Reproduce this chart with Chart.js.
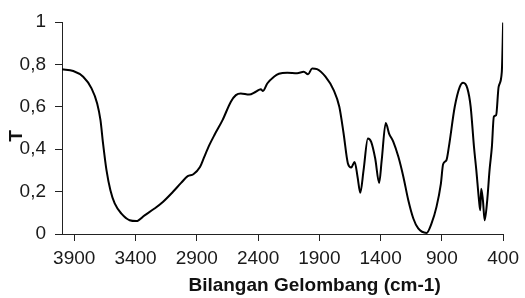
<!DOCTYPE html>
<html>
<head>
<meta charset="utf-8">
<script src="https://cdn.jsdelivr.net/npm/chart.js@4"></script>
<style>
  body { margin: 0; background: #fff; }
  canvas { display: block; }
</style>
</head>
<body>
<canvas id="myChart" width="525" height="298"></canvas>
<script>
// wavenumber (cm-1) and transmittance
var waveNumbers = [4000, 3908, 3827, 3759, 3713, 3686, 3665, 3637, 3605, 3570, 3515, 3448, 3393, 3326, 3245, 3177, 3096, 3028, 2974, 2928, 2874, 2839, 2798, 2757, 2690, 2622, 2581, 2541, 2473, 2419, 2378, 2360, 2325, 2270, 2230, 2162, 2081, 2027, 1992, 1959, 1919, 1850, 1783, 1737, 1702, 1667, 1639, 1612, 1588, 1566, 1539, 1504, 1477, 1444, 1412, 1391, 1358, 1331, 1296, 1255, 1214, 1174, 1133, 1093, 1025, 985, 944, 908, 890, 863, 843, 795, 754, 727, 692, 665, 638, 619, 597, 587, 579, 565, 551, 530, 511, 492, 476, 457, 437, 411, 400];
var transmittance = [0.777, 0.769, 0.742, 0.687, 0.616, 0.537, 0.427, 0.301, 0.206, 0.144, 0.096, 0.065, 0.061, 0.088, 0.120, 0.151, 0.198, 0.241, 0.273, 0.282, 0.316, 0.364, 0.419, 0.466, 0.537, 0.624, 0.655, 0.663, 0.658, 0.671, 0.683, 0.675, 0.710, 0.742, 0.756, 0.761, 0.758, 0.765, 0.753, 0.781, 0.778, 0.742, 0.679, 0.600, 0.474, 0.333, 0.314, 0.340, 0.269, 0.194, 0.301, 0.451, 0.435, 0.356, 0.241, 0.348, 0.524, 0.474, 0.435, 0.364, 0.269, 0.159, 0.073, 0.026, 0.005, 0.049, 0.128, 0.238, 0.329, 0.348, 0.411, 0.600, 0.694, 0.713, 0.687, 0.600, 0.411, 0.301, 0.159, 0.112, 0.214, 0.159, 0.065, 0.159, 0.301, 0.411, 0.553, 0.561, 0.694, 0.765, 0.997];

var xTicks = [3900, 3400, 2900, 2400, 1900, 1400, 900, 400];
var yTicks = [0, 0.2, 0.4, 0.6, 0.8, 1];

var xTitle = 'Bilangan Gelombang (cm-1)';
var yTitle = 'T';

var font = "'Liberation Sans', Arial, sans-serif";

// axis titles sit a bit off-centre in the original, so draw them here
var axisTitles = {
    id: 'axisTitles',
    afterDraw: function(chart) {
        var c = chart.ctx;
        var a = chart.chartArea;
        c.save();
        c.fillStyle = '#111';
        c.font = 'bold 19px ' + font;
        c.textAlign = 'center';
        c.textBaseline = 'middle';
        c.fillText(xTitle, (a.left + a.right) / 2 + 32, 286);
        c.translate(17, (a.top + a.bottom) / 2 + 8);
        c.rotate(-Math.PI / 2);
        c.fillText(yTitle, 0, 0);
        c.restore();
    }
};

document.addEventListener("DOMContentLoaded", (e) => {
    var points = waveNumbers.map((w, i) => ({x: w, y: transmittance[i]}));
    var ctx = document.getElementById('myChart').getContext('2d');

    var chart = new Chart(ctx, {
        type: 'line',
        data: {
            datasets: [{
                data: points,
                borderColor: '#000',
                borderWidth: 2,
                pointRadius: 0,
                fill: false,
                cubicInterpolationMode: 'monotone'
            }]
        },
        options: {
            responsive: false,
            animation: false,
            devicePixelRatio: 1,
            layout: {
                padding: {top: 22, right: 20, left: 0, bottom: 0}
            },
            plugins: {
                legend: {display: false},
                tooltip: {enabled: false}
            },
            scales: {
                x: {
                    type: 'linear',
                    reverse: true,
                    min: 400,
                    max: 4000,
                    afterBuildTicks: function(scale) {
                        scale.ticks = xTicks.map(v => ({value: v}));
                    },
                    afterFit: function(scale) {
                        scale.height = 64;
                    },
                    grid: {
                        drawOnChartArea: false,
                        drawTicks: true,
                        tickLength: 7,
                        color: '#222'
                    },
                    border: {display: true, color: '#222', width: 1},
                    ticks: {
                        color: '#1a1a1a',
                        font: {family: font, size: 19},
                        padding: 6,
                        maxRotation: 0,
                        autoSkip: false,
                        callback: function(v) { return String(v); }
                    }
                },
                y: {
                    min: 0,
                    max: 1,
                    afterBuildTicks: function(scale) {
                        scale.ticks = yTicks.map(v => ({value: v}));
                    },
                    afterFit: function(scale) {
                        scale.width = 62;
                    },
                    grid: {
                        drawOnChartArea: false,
                        drawTicks: true,
                        tickLength: 7,
                        color: '#222'
                    },
                    border: {display: true, color: '#222', width: 1},
                    ticks: {
                        color: '#1a1a1a',
                        font: {family: font, size: 19},
                        padding: 9,
                        callback: function(v) {
                            return String(Math.round(v * 10) / 10).replace('.', ',');
                        }
                    }
                }
            }
        },
        plugins: [axisTitles]
    });
});
</script>
</body>
</html>
